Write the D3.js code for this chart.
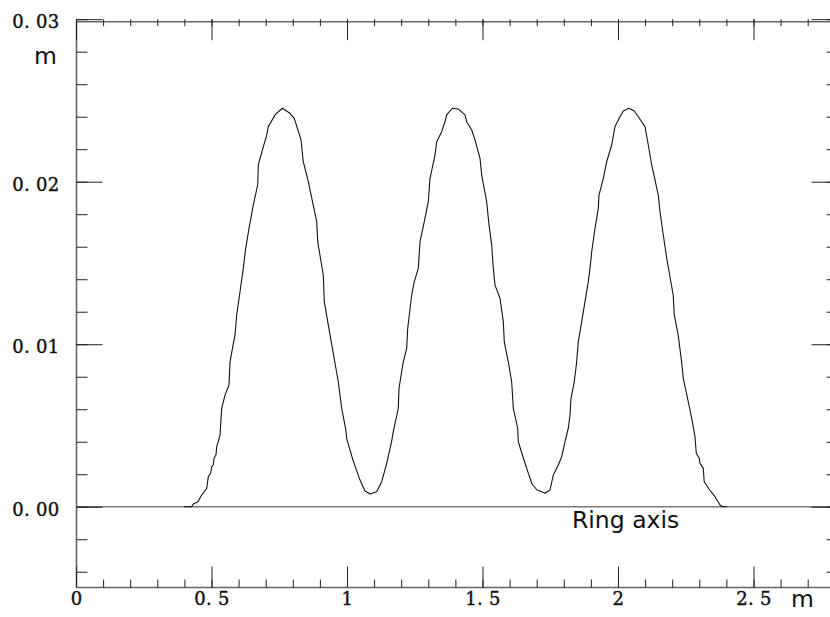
<!DOCTYPE html>
<html>
<head>
<meta charset="utf-8">
<script src="https://cdn.jsdelivr.net/npm/d3@7"></script>
<style>
  html, body { margin: 0; padding: 0; background: #fff; }
  svg { display: block; }
</style>
</head>
<body>
<svg id="chart" width="830" height="617"></svg>
<script>
// Ring profile: radial position (m) against height above the ring axis (m)
const radius = [
  0.3985, 0.4269, 0.4328, 0.4502, 0.4594, 0.4638, 0.4823, 0.4882, 0.4970, 0.5007,
  0.5066, 0.5092, 0.5166, 0.5192, 0.5314, 0.5376, 0.5498, 0.5646, 0.5683, 0.5867,
  0.5930, 0.6052, 0.6173, 0.6262, 0.6384, 0.6542, 0.6705, 0.6727, 0.6911, 0.7037,
  0.7096, 0.7343, 0.7613, 0.7897, 0.8055, 0.8303, 0.8387, 0.8572, 0.8882, 0.8919,
  0.9125, 0.9162, 0.9373, 0.9679, 0.9804, 0.9945, 1.0000, 1.0232, 1.0480, 1.0664,
  1.0849, 1.1096, 1.1280, 1.1465, 1.1642, 1.1708, 1.1893, 1.1919, 1.2077, 1.2203,
  1.2240, 1.2387, 1.2483, 1.2631, 1.2694, 1.2852, 1.3000, 1.3063, 1.3247, 1.3310,
  1.3494, 1.3616, 1.3679, 1.3886, 1.4107, 1.4354, 1.4417, 1.4601, 1.4723, 1.4908,
  1.4970, 1.5155, 1.5240, 1.5339, 1.5399, 1.5461, 1.5646, 1.5768, 1.5804, 1.5952,
  1.6077, 1.6137, 1.6299, 1.6321, 1.6506, 1.6690, 1.6827, 1.7011, 1.7122, 1.7306,
  1.7491, 1.7613, 1.7797, 1.7923, 1.8044, 1.8166, 1.8229, 1.8266, 1.8387, 1.8476,
  1.8535, 1.8661, 1.8782, 1.8904, 1.8967, 1.9030, 1.9151, 1.9273, 1.9299, 1.9458,
  1.9583, 1.9768, 1.9889, 2.0074, 2.0196, 2.0406, 2.0601, 2.0749, 2.0996, 2.1118,
  2.1244, 2.1487, 2.1550, 2.1672, 2.1797, 2.2037, 2.2077, 2.2221, 2.2347, 2.2410,
  2.2594, 2.2720, 2.2841, 2.2889, 2.3000, 2.3026, 2.3148, 2.3181, 2.3358, 2.3579,
  2.3764, 2.3863, 2.4011
];
const height = [
  0.00000, 0.00000, 0.00017, 0.00031, 0.00060, 0.00072, 0.00113, 0.00185, 0.00206, 0.00246,
  0.00257, 0.00298, 0.00318, 0.00369, 0.00441, 0.00606, 0.00687, 0.00749, 0.00892, 0.01057,
  0.01180, 0.01323, 0.01467, 0.01590, 0.01713, 0.01857, 0.01980, 0.02103, 0.02215, 0.02287,
  0.02339, 0.02411, 0.02452, 0.02421, 0.02390, 0.02257, 0.02123, 0.02000, 0.01754, 0.01631,
  0.01426, 0.01262, 0.01057, 0.00769, 0.00606, 0.00484, 0.00411, 0.00281, 0.00164, 0.00097,
  0.00078, 0.00092, 0.00154, 0.00267, 0.00398, 0.00462, 0.00606, 0.00729, 0.00892, 0.00975,
  0.01098, 0.01303, 0.01385, 0.01467, 0.01631, 0.01754, 0.01877, 0.02021, 0.02164, 0.02246,
  0.02308, 0.02369, 0.02411, 0.02452, 0.02447, 0.02411, 0.02369, 0.02318, 0.02257, 0.02144,
  0.02041, 0.01877, 0.01734, 0.01611, 0.01467, 0.01364, 0.01283, 0.01139, 0.01015, 0.00892,
  0.00769, 0.00606, 0.00483, 0.00400, 0.00300, 0.00207, 0.00140, 0.00103, 0.00097, 0.00083,
  0.00103, 0.00195, 0.00257, 0.00308, 0.00400, 0.00483, 0.00564, 0.00667, 0.00769, 0.00892,
  0.01015, 0.01139, 0.01262, 0.01385, 0.01467, 0.01569, 0.01713, 0.01836, 0.01918, 0.02021,
  0.02123, 0.02226, 0.02339, 0.02400, 0.02435, 0.02452, 0.02435, 0.02400, 0.02339, 0.02226,
  0.02103, 0.01918, 0.01815, 0.01672, 0.01529, 0.01303, 0.01180, 0.01057, 0.00892, 0.00790,
  0.00646, 0.00544, 0.00431, 0.00329, 0.00298, 0.00267, 0.00236, 0.00154, 0.00109, 0.00062,
  0.00011, 0.00000, 0.00000
];

// Axis ticks and their printed labels
const xMajorTicks = [0, 0.5, 1, 1.5, 2, 2.5];
const xTickLabels = ["0", "0. 5", "1", "1. 5", "2", "2. 5"];
const yMajorTicks = [0, 0.01, 0.02, 0.03];
const yTickLabels = ["0. 00", "0. 01", "0. 02", "0. 03"];
const xMinorStep = 0.1;
const yMinorStep = 0.002;
const xDomain = [0, 2.81];
const yDomain = [-0.005, 0.03];
const xUnit = "m";
const yUnit = "m";
const baselineLabel = "Ring axis";

const svg = d3.select("#chart");

const x = d3.scaleLinear().domain(xDomain).range([76, 837.5]);
const y = d3.scaleLinear().domain(yDomain).range([588, 19.2]);

const xMinor = d3.range(0, 2.8 + 1e-9, xMinorStep).map(v => +v.toFixed(4));
const yMinor = d3.range(-0.004, 0.03 + 1e-9, yMinorStep).map(v => +v.toFixed(5));

const bottomY = y(yDomain[0]) - 0.5;
const topFrameY = y(0.03) + 2.5;
const leftX = x(0) + 0.5;
const rightX = x(xDomain[1]);

function styleAxis(g) {
  g.select(".domain").remove();
  g.selectAll(".tick line").attr("stroke", "#222").attr("stroke-width", 1);
}

function styleTickText(sel) {
  sel.style("font-family", "'DejaVu Serif', serif")
    .style("font-size", "18px")
    .style("letter-spacing", "0.3px")
    .style("fill", "#111")
    .style("stroke", "#111")
    .style("stroke-width", "0.4px");
}

// Frame
const frame = svg.append("g").attr("stroke", "#666").attr("stroke-width", 1.6).attr("fill", "none");
frame.append("line").attr("x1", leftX).attr("x2", 830).attr("y1", bottomY).attr("y2", bottomY);
frame.append("line").attr("x1", leftX).attr("x2", 830).attr("y1", topFrameY).attr("y2", topFrameY);
frame.append("line").attr("x1", leftX).attr("x2", leftX).attr("y1", topFrameY).attr("y2", bottomY);

// Ring axis (zero height)
svg.append("line")
  .attr("x1", leftX).attr("x2", 830)
  .attr("y1", y(0)).attr("y2", y(0))
  .attr("stroke", "#777").attr("stroke-width", 1.6);

// Bottom axis
svg.append("g").attr("transform", `translate(0,${bottomY})`)
  .call(d3.axisBottom(x).tickValues(xMinor).tickSize(-8).tickFormat(""))
  .call(styleAxis);
const xAxisMajor = svg.append("g").attr("transform", `translate(0,${bottomY})`)
  .call(d3.axisBottom(x).tickValues(xMajorTicks).tickSize(-21).tickPadding(5)
    .tickFormat((d, i) => xTickLabels[i]))
  .call(styleAxis);
xAxisMajor.selectAll("text").call(styleTickText);

// Top axis
svg.append("g").attr("transform", `translate(0,${y(0.03)})`)
  .call(d3.axisBottom(x).tickValues(xMinor).tickSize(7).tickFormat(""))
  .call(styleAxis);
svg.append("g").attr("transform", `translate(0,${y(0.03)})`)
  .call(d3.axisBottom(x).tickValues(xMajorTicks).tickSize(21).tickFormat(""))
  .call(styleAxis);

// Left axis
svg.append("g").attr("transform", `translate(${leftX},0)`)
  .call(d3.axisLeft(y).tickValues(yMinor).tickSize(-11).tickFormat(""))
  .call(styleAxis);
const yAxisMajor = svg.append("g").attr("transform", `translate(${leftX},0)`)
  .call(d3.axisLeft(y).tickValues(yMajorTicks).tickSize(-26).tickPadding(17)
    .tickFormat((d, i) => yTickLabels[i]))
  .call(styleAxis);
yAxisMajor.selectAll("text").call(styleTickText).attr("dy", "0.48em");

// Right axis
svg.append("g").attr("transform", `translate(${rightX},0)`)
  .call(d3.axisLeft(y).tickValues(yMinor).tickSize(11).tickFormat(""))
  .call(styleAxis);
svg.append("g").attr("transform", `translate(${rightX},0)`)
  .call(d3.axisLeft(y).tickValues(yMajorTicks).tickSize(26).tickFormat(""))
  .call(styleAxis);

// Profile curve
const points = radius.map((r, i) => [r, height[i]]);
svg.append("path")
  .datum(points)
  .attr("fill", "none")
  .attr("stroke", "#111")
  .attr("stroke-width", 1.1)
  .attr("stroke-linejoin", "round")
  .attr("d", d3.line().x(d => x(d[0])).y(d => y(d[1])));

// Units and baseline label
const unitStyle = sel => sel
  .style("font-family", "'DejaVu Sans', sans-serif")
  .style("font-size", "23.5px")
  .style("fill", "#111");
svg.append("text").attr("x", 34).attr("y", 63.5).text(yUnit).call(unitStyle);
svg.append("text").attr("x", 791).attr("y", 606.5).text(xUnit).call(unitStyle);
svg.append("text").attr("x", 572).attr("y", 527.5).text(baselineLabel).call(unitStyle);
</script>
</body>
</html>
